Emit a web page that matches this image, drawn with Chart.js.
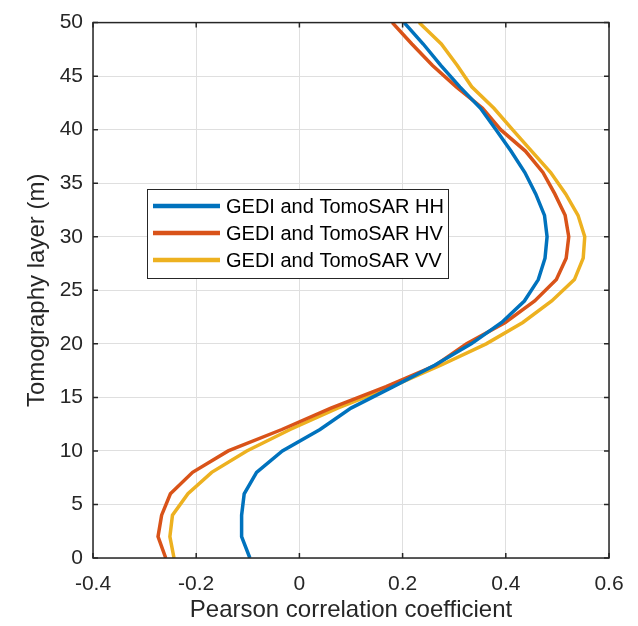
<!DOCTYPE html>
<html>
<head>
<meta charset="utf-8">
<title>Tomography layer correlation</title>
<script src="https://cdn.jsdelivr.net/npm/chart.js@4/dist/chart.umd.min.js"></script>
<style>
  body { margin: 0; background: #fff; }
  #chart { display: block; }
</style>
</head>
<body>
<canvas id="chart" width="638" height="626"></canvas>
<script>
// Tomography layer height (m), every 2 m
const layers = [0, 2, 4, 6, 8, 10, 12, 14, 16, 18, 20, 22, 24, 26, 28, 30, 32, 34, 36, 38, 40, 42, 44, 46, 48, 50];

// Pearson correlation between GEDI and each TomoSAR polarisation
const corrHH = [-0.096, -0.112, -0.112, -0.107, -0.083, -0.033, 0.040, 0.100, 0.182, 0.262, 0.333, 0.392, 0.436, 0.463, 0.476, 0.480, 0.475, 0.458, 0.437, 0.410, 0.381, 0.351, 0.311, 0.274, 0.240, 0.203];
const corrHV = [-0.259, -0.274, -0.267, -0.250, -0.207, -0.138, -0.034, 0.061, 0.168, 0.264, 0.324, 0.399, 0.456, 0.498, 0.517, 0.522, 0.515, 0.495, 0.472, 0.438, 0.390, 0.355, 0.304, 0.258, 0.218, 0.180];
const corrVV = [-0.243, -0.251, -0.246, -0.216, -0.170, -0.102, -0.018, 0.074, 0.179, 0.274, 0.362, 0.433, 0.489, 0.533, 0.550, 0.553, 0.540, 0.516, 0.487, 0.450, 0.413, 0.377, 0.334, 0.306, 0.275, 0.232];

const seriesNames = ['GEDI and TomoSAR HH', 'GEDI and TomoSAR HV', 'GEDI and TomoSAR VV'];
const seriesColors = ['#0072BD', '#D95319', '#EDB120'];

const xTicks = [-0.4, -0.2, 0, 0.2, 0.4, 0.6];
const yTicks = [0, 5, 10, 15, 20, 25, 30, 35, 40, 45, 50];

const FONT = '"Liberation Sans", Arial, Helvetica, sans-serif';
const AXIS = '#262626';

function toPoints(values) {
  return values.map((v, i) => ({ x: v, y: layers[i] }));
}

// box around the axes with inward tick marks on all four sides
const boxAxes = {
  id: 'boxAxes',
  afterDatasetsDraw(chart) {
    const { ctx, chartArea: a, scales } = chart;
    const len = 5;
    ctx.save();
    ctx.strokeStyle = AXIS;
    ctx.lineWidth = 1.5;
    ctx.beginPath();
    xTicks.forEach(v => {
      const px = scales.x.getPixelForValue(v);
      ctx.moveTo(px, a.bottom); ctx.lineTo(px, a.bottom - len);
      ctx.moveTo(px, a.top); ctx.lineTo(px, a.top + len);
    });
    yTicks.forEach(v => {
      const py = scales.y.getPixelForValue(v);
      ctx.moveTo(a.left, py); ctx.lineTo(a.left + len, py);
      ctx.moveTo(a.right, py); ctx.lineTo(a.right - len, py);
    });
    ctx.stroke();
    ctx.strokeRect(a.left, a.top, a.right - a.left, a.bottom - a.top);
    ctx.restore();
  }
};

// legend box placed inside the plot
const insideLegend = {
  id: 'insideLegend',
  afterDraw(chart) {
    const { ctx } = chart;
    const box = { x: 147.5, y: 189.5, w: 301, h: 89 };
    ctx.save();
    ctx.fillStyle = '#fff';
    ctx.fillRect(box.x, box.y, box.w, box.h);
    ctx.strokeStyle = AXIS;
    ctx.lineWidth = 1;
    ctx.strokeRect(box.x, box.y, box.w, box.h);
    ctx.font = '20px ' + FONT;
    ctx.textBaseline = 'middle';
    chart.data.datasets.forEach((ds, i) => {
      const yy = 206 + i * 27;
      ctx.strokeStyle = ds.borderColor;
      ctx.lineWidth = 4.5;
      ctx.beginPath();
      ctx.moveTo(153, yy);
      ctx.lineTo(220, yy);
      ctx.stroke();
      ctx.fillStyle = '#000';
      ctx.fillText(ds.label, 226, yy + 1);
    });
    ctx.restore();
  }
};

new Chart(document.getElementById('chart'), {
  type: 'line',
  data: {
    datasets: [corrHH, corrHV, corrVV].map((vals, i) => ({
      label: seriesNames[i],
      data: toPoints(vals),
      borderColor: seriesColors[i],
      backgroundColor: seriesColors[i],
      borderWidth: 3.5,
      pointRadius: 0,
      tension: 0,
      fill: false
    }))
  },
  options: {
    responsive: false,
    animation: false,
    devicePixelRatio: 1,
    layout: { padding: { top: 16, right: 29, left: 0, bottom: 0 } },
    plugins: {
      legend: { display: false },
      tooltip: { enabled: false }
    },
    scales: {
      x: {
        type: 'linear',
        min: -0.4,
        max: 0.6,
        afterBuildTicks: s => { s.ticks = xTicks.map(v => ({ value: v })); },
        afterFit: s => { s.height = 68; },
        ticks: {
          autoSkip: false,
          maxRotation: 0,
          padding: 14,
          color: AXIS,
          font: { family: FONT, size: 21 },
          callback: v => String(Math.round(v * 10) / 10)
        },
        grid: { color: '#dfdfdf', lineWidth: 1, drawTicks: false },
        border: { display: false },
        title: {
          display: true,
          text: 'Pearson correlation coefficient',
          color: AXIS,
          font: { family: FONT, size: 24 },
          padding: { top: 0, bottom: 1 }
        }
      },
      y: {
        type: 'linear',
        min: 0,
        max: 50,
        afterBuildTicks: s => { s.ticks = yTicks.map(v => ({ value: v })); },
        afterFit: s => { s.width = 93; },
        ticks: {
          autoSkip: false,
          padding: 10,
          color: AXIS,
          font: { family: FONT, size: 21 }
        },
        grid: { color: '#dfdfdf', lineWidth: 1, drawTicks: false },
        border: { display: false },
        title: {
          display: true,
          text: 'Tomography layer (m)',
          color: AXIS,
          font: { family: FONT, size: 24 },
          padding: { top: 23, bottom: 0 }
        }
      }
    }
  },
  plugins: [boxAxes, insideLegend]
});
</script>
</body>
</html>
